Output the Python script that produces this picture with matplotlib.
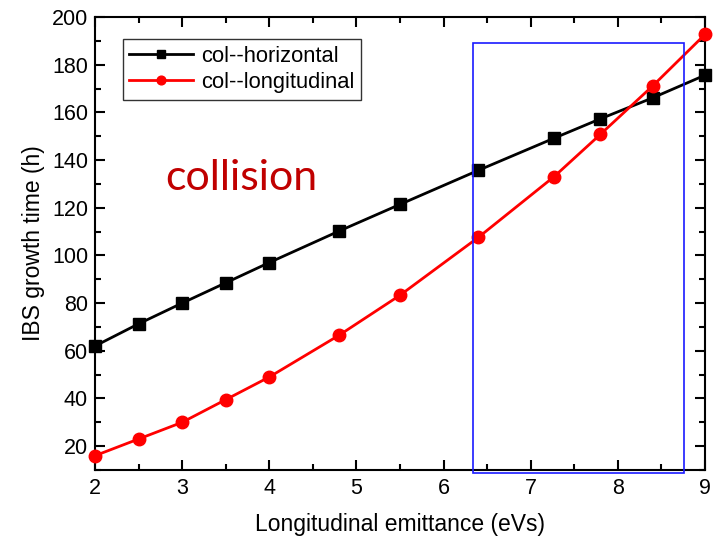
import matplotlib
matplotlib.use("Agg")
import matplotlib.pyplot as plt
from matplotlib.patches import Rectangle
from matplotlib.ticker import MultipleLocator

plt.rcParams['font.family'] = ['Liberation Sans', 'DejaVu Sans']

emittance = [2.0, 2.5, 3.0, 3.5, 4.0, 4.8, 5.5, 6.4, 7.27, 7.8, 8.4, 9.0]
col_horizontal = [62.0, 71.3, 80.0, 88.5, 97.0, 110.2, 121.4, 135.7, 149.2, 157.3, 166.1, 175.6]
col_longitudinal = [16.0, 23.0, 30.0, 39.5, 49.0, 66.5, 83.3, 107.6, 133.1, 150.8, 171.1, 192.7]

fig = plt.figure(figsize=(7.16, 5.38), dpi=100)
ax = fig.add_axes([95/716, 1 - 470/538, 610/716, 453/538])

ax.plot(emittance, col_horizontal, color='black', lw=2, marker='s', ms=8,
        label='col--horizontal', clip_on=False, zorder=3)
ax.plot(emittance, col_longitudinal, color='red', lw=2, marker='o', ms=9,
        label='col--longitudinal', clip_on=False, zorder=3)

ax.set_xlim(2, 9)
ax.set_ylim(10, 200)
ax.xaxis.set_major_locator(MultipleLocator(1))
ax.xaxis.set_minor_locator(MultipleLocator(0.5))
ax.yaxis.set_major_locator(MultipleLocator(20))
ax.yaxis.set_minor_locator(MultipleLocator(10))
ax.set_yticks([20, 40, 60, 80, 100, 120, 140, 160, 180, 200])
ax.tick_params(which='both', direction='in', top=True, right=True, width=1.5,
               labelsize=15.5)
ax.tick_params(which='major', length=7)
ax.tick_params(which='minor', length=4)
ax.tick_params(axis='x', pad=6)
ax.tick_params(axis='y', pad=5)
for sp in ax.spines.values():
    sp.set_linewidth(1.5)

ax.set_xlabel('Longitudinal emittance (eVs)', fontsize=16.5, labelpad=10)
ax.set_ylabel('IBS growth time (h)', fontsize=16.5, labelpad=5)

# highlighted region
ax.add_patch(Rectangle((6.334, 8.8), 8.76 - 6.334, 189.2 - 8.8, fill=False,
                       edgecolor='#1a1aff', lw=1.2, clip_on=False, zorder=4))

ax.text(3.675, 132.6, 'collision', color='#c00000', fontsize=31,
        family=['Lato', 'DejaVu Sans'], ha='center', va='center')

leg = ax.legend(loc='upper left', fontsize=15.8, markerscale=0.7,
                frameon=True, fancybox=False, edgecolor='black',
                borderpad=0.3, handlelength=2.9, labelspacing=0.25,
                handletextpad=0.4, borderaxespad=0)
leg.set_bbox_to_anchor((27.5/610, 1 - 22/453), transform=ax.transAxes)
leg.get_frame().set_linewidth(1.0)

fig.savefig('out.png', dpi=100)
